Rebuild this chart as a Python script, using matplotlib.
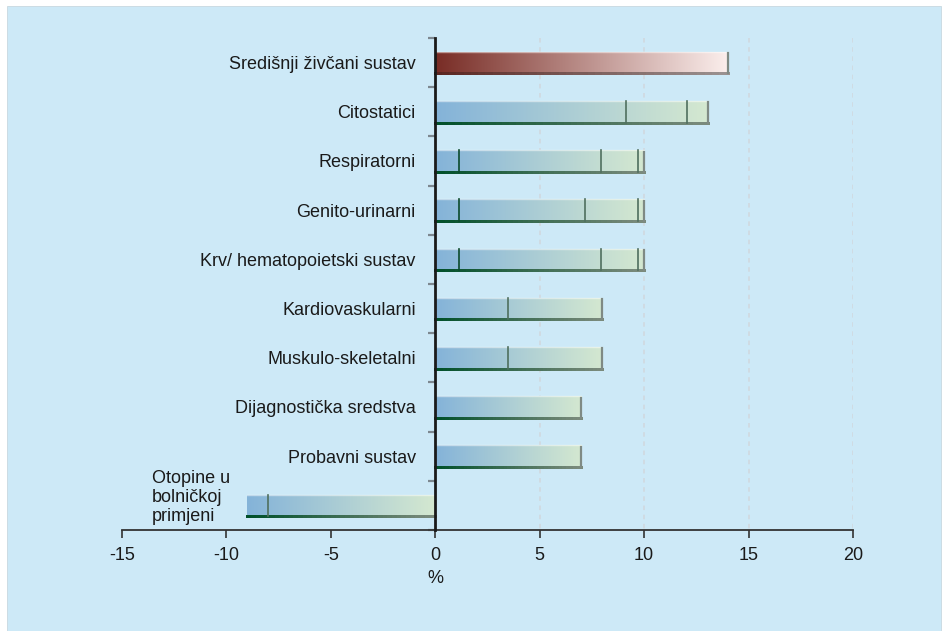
import numpy as np
import matplotlib
matplotlib.use("Agg")
import matplotlib.pyplot as plt
from matplotlib.patches import Rectangle
from matplotlib.collections import LineCollection
from matplotlib.colors import to_rgb

plt.rcParams['font.family'] = ['Liberation Sans', 'DejaVu Sans']
plt.rcParams['axes.unicode_minus'] = False

# data: stacked segment lengths per category (top to bottom)
categories = ["Središnji živčani sustav", "Citostatici", "Respiratorni",
              "Genito-urinarni", "Krv/ hematopoietski sustav", "Kardiovaskularni",
              "Muskulo-skeletalni", "Dijagnostička sredstva", "Probavni sustav",
              "Otopine u\nbolničkoj\nprimjeni"]
segments = [
    [14.0],
    [9.15, 2.9, 1.0],
    [1.15, 6.8, 1.75, 0.3],
    [1.15, 6.0, 2.55, 0.3],
    [1.15, 6.8, 1.75, 0.3],
    [3.5, 4.5],
    [3.5, 4.5],
    [7.0],
    [7.0],
    [-8.0, -1.0],
]
xticks = [-15, -10, -5, 0, 5, 10, 15, 20]
grid_x = [5, 10, 15, 20]

bg = '#cde9f7'
blue_grad = ('#84b3d9', '#d4e8d0')
red_grad = ('#782c25', '#fbeeec')

fig = plt.figure(figsize=(9.46, 6.31), dpi=100)
fig.patch.set_facecolor('white')
fig.add_artist(Rectangle((7 / 946, 0), 934 / 946, 625 / 631, transform=fig.transFigure,
                         facecolor=bg, edgecolor='#c8d8e0', lw=0.6, zorder=-10))

ax = fig.add_axes([122 / 946, 1 - 530 / 631, 731 / 946, 492 / 631])
ax.patch.set_visible(False)

ypos = np.arange(len(categories))
height = 0.44


def grad_img(c0, c1, n=256):
    a = np.array(to_rgb(c0))
    b = np.array(to_rgb(c1))
    t = np.linspace(0, 1, n)[:, None]
    return (a + (b - a) * t)[None, :, :]


totals = [sum(s) for s in segments]
bars = ax.barh(ypos, totals, height=height, color='none', edgecolor='none', zorder=3)

for i, (rect, segs) in enumerate(zip(bars, segments)):
    tot = sum(segs)
    x0, x1 = min(0, tot), max(0, tot)
    y0, y1 = ypos[i] - height / 2, ypos[i] + height / 2
    cols = red_grad if i == 0 else blue_grad
    im = ax.imshow(grad_img(*cols), extent=[x0, x1, y1, y0], aspect='auto', zorder=2,
                   interpolation='bilinear')
    im.set_clip_path(rect)
    # top highlight
    ax.plot([x0, x1], [y0, y0], color='white', lw=1.0, alpha=0.5, zorder=4)
    # bottom edge, dark on the left fading to grey on the right
    n = 40
    xs = np.linspace(x0, x1, n + 1)
    ys = np.full(n, y1)
    pts = np.stack([np.column_stack([xs[:-1], ys]), np.column_stack([xs[1:], ys])], axis=1)
    if i == 0:
        c_a, c_b = np.array(to_rgb('#5a2520')), np.array(to_rgb('#9a9190'))
    else:
        c_a, c_b = np.array(to_rgb('#00502a')), np.array(to_rgb('#7a8a7c'))
    t = np.linspace(0, 1, n)[:, None]
    lc = LineCollection(pts, colors=c_a + (c_b - c_a) * t, linewidths=1.8, zorder=5,
                        capstyle='projecting', antialiased=False)
    ax.add_collection(lc)
    # right shadow edge
    if tot > 0:
        ax.plot([x1, x1], [y0 + 0.03, y1], color='#7f8a84', lw=1.6, zorder=5)
    # segment dividers
    cum = np.cumsum(segs)[:-1]
    for c in cum:
        col = '#0b4a2c' if abs(c) < 2 else '#4f6f5e'
        ax.plot([c, c], [y0, y1], color=col, lw=1.2, zorder=5)

# gridlines
ax.vlines(grid_x, -0.5, 9.5, colors='#d0d8dd', linestyles=(0, (3, 3)), lw=1.1, zorder=1)

ax.set_xlim(-15, 20)
ax.set_ylim(9.5, -0.5)

for s in ['top', 'right']:
    ax.spines[s].set_visible(False)
ax.spines['left'].set_position(('data', 0))
ax.spines['left'].set_color('#1a1a1a')
ax.spines['left'].set_linewidth(2.0)
ax.spines['left'].set_zorder(6)
ax.spines['bottom'].set_color('#333333')
ax.spines['bottom'].set_linewidth(1.3)

ax.set_xticks(xticks)
ax.set_xticklabels([str(v) for v in xticks], fontsize=13, color='#1a1a1a')
ax.tick_params(axis='x', length=6, width=1.2, color='#333333', pad=6)

labels = list(categories)
labels[-1] = ''
ax.set_yticks(ypos)
ax.set_yticklabels(labels, fontsize=13, color='#1a1a1a')
ax.tick_params(axis='y', which='major', length=0, pad=14)
ax.set_yticks(np.arange(-0.5, 9.6, 1.0), minor=True)
ax.tick_params(axis='y', which='minor', length=5, width=1.6, color='#7d8890')

ax.text(-13.57, ypos[-1] - 0.16, categories[-1], ha='left', va='center',
        fontsize=13, color='#1a1a1a', linespacing=1.12)

ax.set_xlabel('%', fontsize=13, color='#1a1a1a')
ax.xaxis.set_label_coords(15 / 35, -0.082)

fig.savefig('out.png', dpi=100)
